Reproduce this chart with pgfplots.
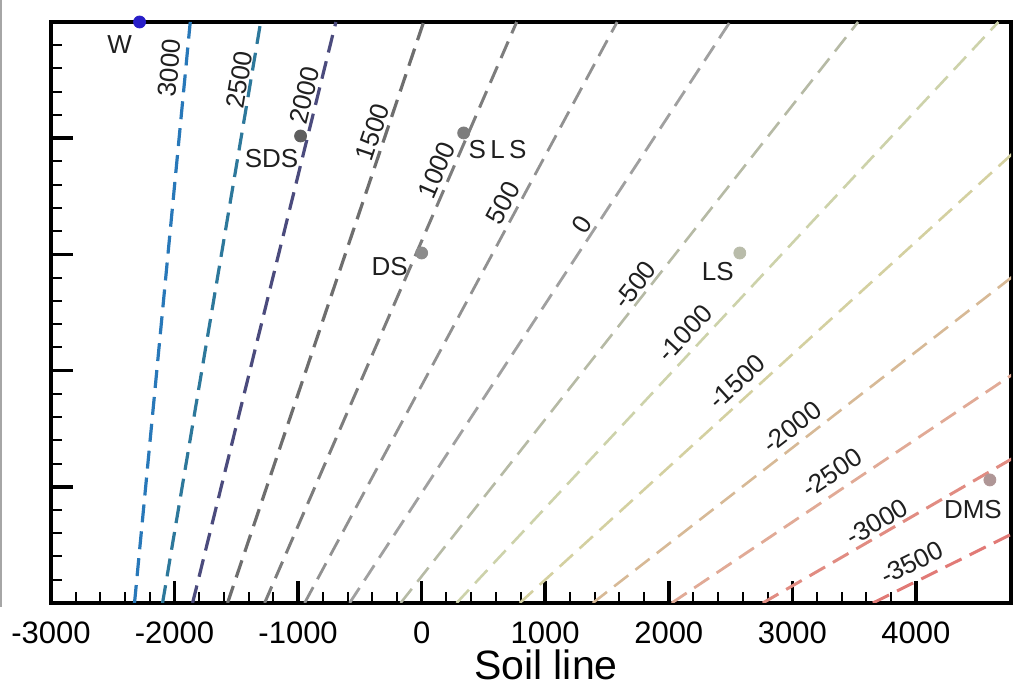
\documentclass[border=0pt]{standalone}
\usepackage{fontspec}
\setmainfont{Liberation Sans}
\usepackage{pgfplots}
\pgfplotsset{compat=1.18}
\definecolor{cA}{RGB}{40,120,185}
\definecolor{cB}{RGB}{45,120,155}
\definecolor{cC}{RGB}{75,75,125}
\definecolor{cD}{RGB}{110,110,110}
\definecolor{cE}{RGB}{125,125,125}
\definecolor{cF}{RGB}{145,145,145}
\definecolor{cG}{RGB}{160,160,160}
\definecolor{cH}{RGB}{182,186,165}
\definecolor{cI}{RGB}{205,210,170}
\definecolor{cJ}{RGB}{212,208,160}
\definecolor{cK}{RGB}{215,185,150}
\definecolor{cL}{RGB}{225,170,150}
\definecolor{cM}{RGB}{225,140,130}
\definecolor{cN}{RGB}{225,122,118}
\tikzset{lab/.style={font=\fontsize{13}{15}\selectfont, text=black!88, inner sep=1pt}}
\begin{document}
\begin{tikzpicture}
\begin{axis}[
  name=main,
  scale only axis,
  width=480pt, height=290.5pt,
  xmin=-3000, xmax=4770, ymin=0, ymax=5000,
  axis line style={line width=2pt},
  xtick={-3000,-2000,-1000,0,1000,2000,3000,4000},
  xticklabels={-3000,-2000,-1000,0,1000,2000,3000,4000},
  ytick={0,1000,2000,3000,4000,5000},
  yticklabels={},
  minor x tick num=4,
  minor y tick num=4,
  xtick pos=bottom, ytick pos=left,
  tick align=inside,
  major tick length=11pt,
  minor tick length=5.5pt,
  major tick style={line width=1.8pt,black},
  minor tick style={line width=1pt,black},
  xticklabel style={font=\fontsize{15.5}{18}\selectfont, anchor=base, yshift=-20.5pt},
  xlabel={Soil line},
  xlabel style={at={(rel axis cs:0.5156,0)}, anchor=base, yshift=-38.5pt, font=\fontsize{20.5}{24}\selectfont},
  clip mode=individual,
]
\addplot[cA, line width=1.6pt, dash pattern=on 9pt off 4.5pt] coordinates {(-2324,0) (-1873,5000)};
\addplot[cB, line width=1.6pt, dash pattern=on 9pt off 4.5pt] coordinates {(-2097,0) (-1303,5000)};
\addplot[cC, line width=1.6pt, dash pattern=on 9pt off 4.5pt] coordinates {(-1854,0) (-694,5000)};
\addplot[cD, line width=1.6pt, dash pattern=on 9pt off 4.5pt] coordinates {(-1571,0) (16,5000)};
\addplot[cE, line width=1.5pt, dash pattern=on 9pt off 4.5pt] coordinates {(-1271,0) (769,5000)};
\addplot[cF, line width=1.4pt, dash pattern=on 9pt off 4.5pt] coordinates {(-947,0) (1582,5000)};
\addplot[cG, line width=1.4pt, dash pattern=on 9pt off 4.5pt] coordinates {(-583,0) (2495,5000)};
\addplot[cH, line width=1.3pt, dash pattern=on 9pt off 4.5pt] coordinates {(-170,0) (3532,5000)};
\addplot[cI, line width=1.3pt, dash pattern=on 9pt off 4.5pt] coordinates {(283,0) (4668,5000)};
\addplot[cJ, line width=1.3pt, dash pattern=on 9pt off 4.5pt] coordinates {(794,0) (5950,5000)};
\addplot[cK, line width=1.3pt, dash pattern=on 9pt off 4.5pt] coordinates {(1385,0) (7433,5000)};
\addplot[cL, line width=1.4pt, dash pattern=on 9pt off 4.5pt] coordinates {(2024,0) (9036,5000)};
\addplot[cM, line width=1.5pt, dash pattern=on 9pt off 4.5pt] coordinates {(2761,0) (10885,5000)};
\addplot[cN, line width=1.5pt, dash pattern=on 9pt off 4.5pt] coordinates {(3652,0) (13121,5000)};
% points
\addplot[only marks, mark=*, mark size=3pt, color={rgb,255:red,40;green,30;blue,200}] coordinates {(-2283,5000)};
\addplot[only marks, mark=*, mark size=3pt, color={rgb,255:red,95;green,95;blue,95}] coordinates {(-980,4019)};
\addplot[only marks, mark=*, mark size=3pt, color={rgb,255:red,125;green,125;blue,125}] coordinates {(340,4045)};
\addplot[only marks, mark=*, mark size=3pt, color={rgb,255:red,140;green,140;blue,140}] coordinates {(0,3012)};
\addplot[only marks, mark=*, mark size=3pt, color={rgb,255:red,185;green,188;blue,170}] coordinates {(2575,3012)};
\addplot[only marks, mark=*, mark size=3pt, color={rgb,255:red,175;green,150;blue,150}] coordinates {(4599,1059)};
% contour labels
\node[lab, rotate=84.5] at (axis cs:-2040,4604) {3000};
\node[lab, rotate=80.4] at (axis cs:-1474,4501) {2500};
\node[lab, rotate=76.1] at (axis cs:-947,4372) {2000};
\node[lab, rotate=71.3] at (axis cs:-397,4053) {1500};
\node[lab, rotate=66.5] at (axis cs:121,3726) {1000};
\node[lab, rotate=61.7] at (axis cs:656,3442) {500};
\node[lab, rotate=56.8] at (axis cs:1296,3253) {0};
\node[lab, rotate=51.8] at (axis cs:1725,2737) {-500};
\node[lab, rotate=47.0] at (axis cs:2130,2324) {-1000};
\node[lab, rotate=42.4] at (axis cs:2551,1902) {-1500};
\node[lab, rotate=37.9] at (axis cs:2996,1515) {-2000};
\node[lab, rotate=33.9] at (axis cs:3320,1119) {-2500};
\node[lab, rotate=30.1] at (axis cs:3684,697) {-3000};
\node[lab, rotate=26.4] at (axis cs:3968,344) {-3500};
% point labels
\node[lab] at (axis cs:-2445,4802) {W};
\node[lab] at (axis cs:-1215,3821) {SDS};
\node[lab] at (axis cs:615,3898) {S\,L\,S};
\node[lab] at (axis cs:-259,2892) {DS};
\node[lab] at (axis cs:2397,2849) {LS};
\node[lab] at (axis cs:4462,800) {DMS};
\end{axis}
\pgfresetboundingbox
\path (main.south west) ++(-25.5pt,-44.5pt) coordinate (bl);
\path (main.north east) ++(2.5pt,11pt) coordinate (tr);
\useasboundingbox (bl) rectangle (tr);
\draw[color=black!35, line width=1pt] ([xshift=0.75pt]bl |- main.south west) ++(0,-2pt) -- ([xshift=0.75pt]bl |- tr);
\end{tikzpicture}
\end{document}
